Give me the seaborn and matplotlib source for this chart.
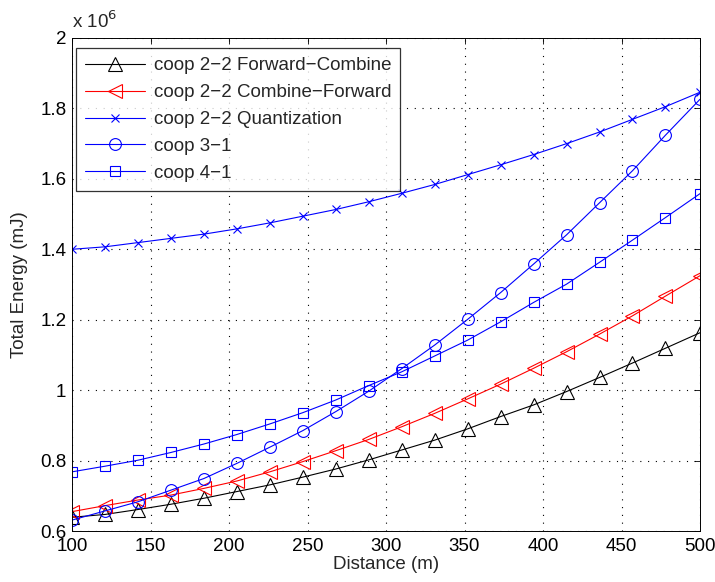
import numpy as np
import pandas as pd
import matplotlib
matplotlib.use("Agg")
import matplotlib.pyplot as plt
import seaborn as sns

# distance points (m)
distance = [100, 121, 142, 163, 184, 205, 226, 247, 268, 289,
            310, 331, 352, 373, 394, 415, 436, 457, 478, 500]

# total energy, in units of 1e6 mJ
fwd_combine = [0.639, 0.647, 0.661, 0.676, 0.693, 0.712, 0.731, 0.753, 0.776, 0.802,
               0.830, 0.858, 0.890, 0.925, 0.958, 0.996, 1.036, 1.077, 1.119, 1.163]
combine_fwd = [0.655, 0.672, 0.688, 0.702, 0.721, 0.742, 0.768, 0.797, 0.828, 0.860,
               0.896, 0.934, 0.975, 1.017, 1.062, 1.109, 1.159, 1.211, 1.267, 1.325]
quantization = [1.400, 1.407, 1.419, 1.431, 1.443, 1.458, 1.475, 1.494, 1.513, 1.535,
                1.559, 1.584, 1.612, 1.640, 1.669, 1.700, 1.733, 1.769, 1.805, 1.846]
coop31 = [0.631, 0.657, 0.683, 0.716, 0.749, 0.792, 0.838, 0.885, 0.939, 0.997,
          1.061, 1.128, 1.201, 1.277, 1.358, 1.441, 1.532, 1.623, 1.724, 1.826]
coop41 = [0.768, 0.784, 0.801, 0.823, 0.847, 0.874, 0.904, 0.936, 0.972, 1.013,
          1.052, 1.097, 1.142, 1.194, 1.249, 1.301, 1.363, 1.426, 1.490, 1.558]

labels = ["coop 2\u22122 Forward\u2212Combine",
          "coop 2\u22122 Combine\u2212Forward",
          "coop 2\u22122 Quantization",
          "coop 3\u22121",
          "coop 4\u22121"]

series = [fwd_combine, combine_fwd, quantization, coop31, coop41]
colors = ["black", "#ff0000", "#0000ff", "#0000ff", "#0000ff"]
markers = ["^", "<", "x", "o", "s"]
msizes = [10, 10, 6, 8.5, 7.5]

sns.set_style("white")
plt.rcParams["font.family"] = ["Liberation Sans", "DejaVu Sans"]
plt.rcParams["font.size"] = 13.5
fs = 13.5

fig = plt.figure(figsize=(7.15, 5.82), dpi=100)
ax = fig.add_axes([72 / 715, 51 / 582, 628 / 715, 493 / 582])

for vals, lab, c, m, ms in zip(series, labels, colors, markers, msizes):
    df = pd.DataFrame({"Distance": distance, "Energy": vals})
    sns.lineplot(data=df, x="Distance", y="Energy", ax=ax, color=c, marker=m,
                 markersize=ms, markerfacecolor="none", markeredgecolor=c,
                 markeredgewidth=0.8, linewidth=0.8, label=lab)

ax.set_xlim(100, 500)
ax.set_ylim(0.6, 2.0)
ax.set_xticks([100, 150, 200, 250, 300, 350, 400, 450, 500])
yt = [0.6, 0.8, 1.0, 1.2, 1.4, 1.6, 1.8, 2.0]
ax.set_yticks(yt)
ax.set_yticklabels(["%g" % v for v in yt])
ax.grid(True, color="black", linestyle=(0, (1, 6)), linewidth=0.8)
ax.tick_params(direction="in", top=True, right=True, length=4, width=0.6,
               labelsize=fs, colors="black")
ax.tick_params(axis="y", pad=4)
ax.tick_params(axis="x", pad=5)
for sp in ax.spines.values():
    sp.set_color("black")
    sp.set_linewidth(0.7)

ax.set_xlabel("Distance (m)", fontsize=fs, labelpad=1)
ax.set_ylabel("Total Energy (mJ)", fontsize=fs, labelpad=9)
ax.text(0.0, 1.012, r"x 10$^{6}$", transform=ax.transAxes, fontsize=fs,
        va="bottom", ha="left")

leg = ax.legend(loc="upper left", bbox_to_anchor=(0.006, 0.98), borderaxespad=0,
                fontsize=fs, handlelength=3.2, handletextpad=0.45,
                labelspacing=0.52, fancybox=False, frameon=True,
                edgecolor="black", borderpad=0.5)
leg.get_frame().set_linewidth(0.9)

fig.savefig("out.png", dpi=100)
